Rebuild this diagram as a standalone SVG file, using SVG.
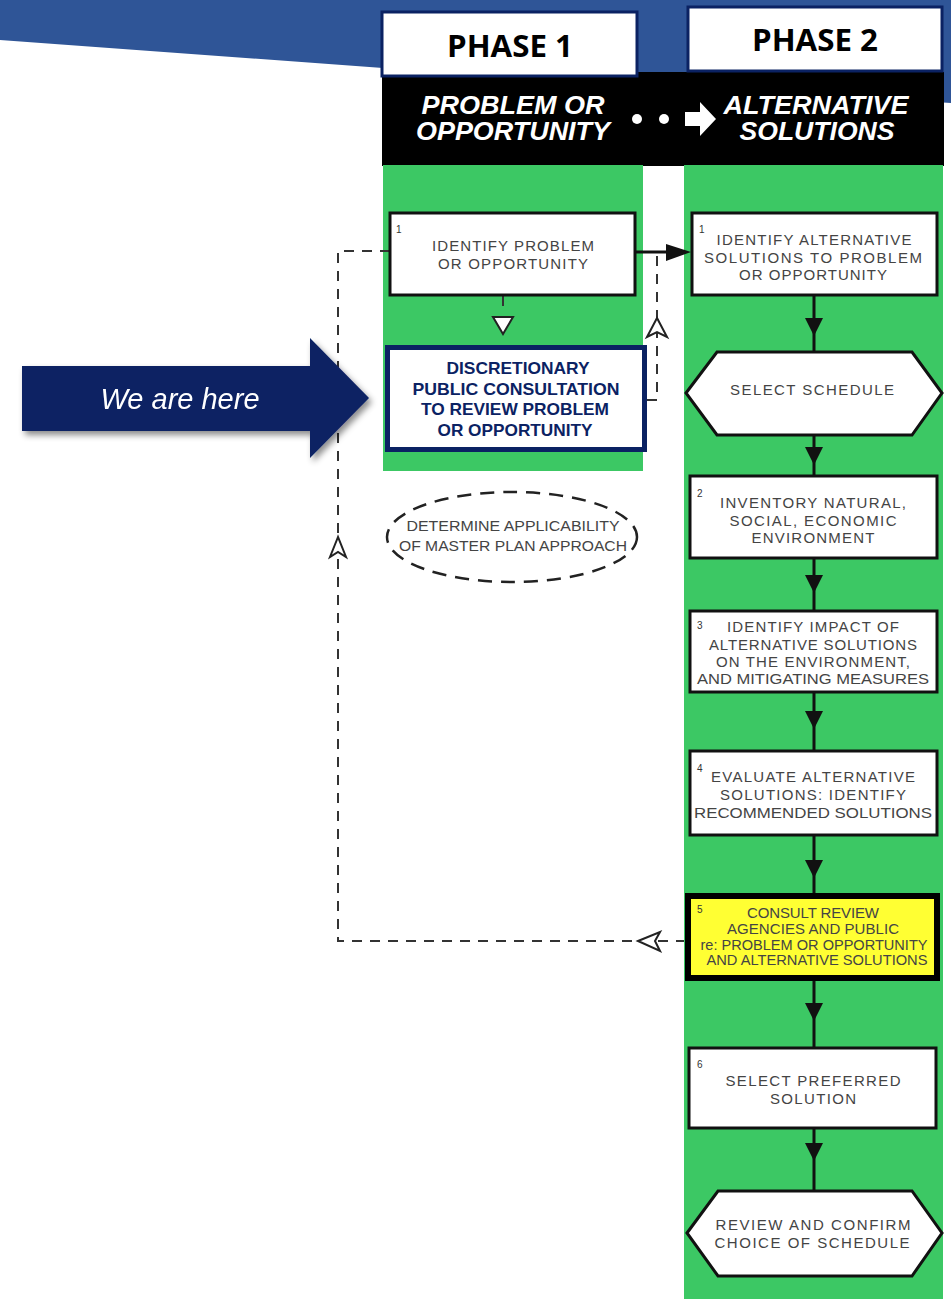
<svg xmlns="http://www.w3.org/2000/svg" width="951" height="1299" viewBox="0 0 951 1299">
<defs>
<style>
.box{fill:#ffffff;stroke:#111;stroke-width:3}
.t{font-family:"Liberation Sans",Arial,sans-serif;font-size:15px;fill:#444;text-anchor:middle;dominant-baseline:central}
.num{font-family:"Liberation Sans",Arial,sans-serif;font-size:10px;fill:#333}
.disc{font-family:"Liberation Sans",Arial,sans-serif;font-size:16.5px;font-weight:bold;fill:#0b2263;text-anchor:middle;dominant-baseline:central}
.hdr{font-family:"Liberation Sans",Arial,sans-serif;font-size:25px;font-weight:bold;font-style:italic;fill:#fff;text-anchor:middle;dominant-baseline:central}
.phase{font-family:"Open Sans","Liberation Sans",sans-serif;font-size:31px;font-weight:bold;fill:#000;text-anchor:middle;dominant-baseline:central}
.solid{stroke:#111;stroke-width:3;fill:none}
.dash{stroke:#333;stroke-width:2;fill:none;stroke-dasharray:10 8}
.head{fill:#111}
.hollow{fill:#fff;stroke:#222;stroke-width:2}
</style>
<filter id="sh" x="-10%" y="-20%" width="130%" height="150%">
<feDropShadow dx="3" dy="4" stdDeviation="3" flood-color="#000" flood-opacity="0.45"/>
</filter>
</defs>

<!-- background header band -->
<polygon points="0,0 951,0 951,103 383,68 0,40" fill="#2f5597"/>
<rect x="382" y="72" width="562" height="94" fill="#000"/>
<rect x="383" y="165" width="260" height="306" fill="#3cc864"/>
<rect x="684" y="165" width="259" height="1134" fill="#3cc864"/>

<g id="phase1">
<rect x="382" y="12" width="255" height="64" fill="#fff" stroke="#0b2263" stroke-width="3"/>
<text class="phase" x="510" y="45" textLength="126" lengthAdjust="spacingAndGlyphs">PHASE 1</text>
</g>
<g id="phase2">
<rect x="688" y="7" width="254" height="64" fill="#fff" stroke="#0b2263" stroke-width="3"/>
<text class="phase" x="815" y="39" textLength="126" lengthAdjust="spacingAndGlyphs">PHASE 2</text>
</g>

<g id="header">
<text class="hdr" x="513" y="105" textLength="183" lengthAdjust="spacingAndGlyphs">PROBLEM OR</text>
<text class="hdr" x="513" y="131" textLength="194" lengthAdjust="spacingAndGlyphs">OPPORTUNITY</text>
<circle cx="637" cy="119" r="5" fill="#fff"/>
<circle cx="664" cy="119" r="5" fill="#fff"/>
<polygon points="685,112 700,112 700,102 716,119 700,136 700,126 685,126" fill="#fff"/>
<text class="hdr" x="816" y="105" textLength="185" lengthAdjust="spacingAndGlyphs">ALTERNATIVE</text>
<text class="hdr" x="817" y="131" textLength="155" lengthAdjust="spacingAndGlyphs">SOLUTIONS</text>
</g>

<g id="connectors">
<!-- left feedback loop -->
<polyline class="dash" points="390,251 338,251 338,941 684,941"/>
<polygon class="hollow" points="338,537 330,557 338,552 346,557"/>
<polygon class="hollow" points="638,941 660,932 655,941 660,951"/>
<!-- L1 to discretionary -->
<line class="dash" x1="503" y1="296" x2="503" y2="314" stroke-dasharray="8 4"/>
<polygon class="hollow" points="493,317 513,317 503,334"/>
<!-- discretionary back up -->
<polyline class="dash" points="647,400 657,400 657,255"/>
<polygon class="hollow" points="657,318 647,337 657,332 667,337"/>
<!-- L1 to R1 -->
<line class="solid" x1="636" y1="252" x2="680" y2="252"/>
<polygon class="head" points="666,244 691,252 666,261"/>
<!-- right spine -->
<line class="solid" x1="814" y1="296" x2="814" y2="352"/>
<polygon class="head" points="805,318 823,318 814,336"/>
<line class="solid" x1="814" y1="435" x2="814" y2="475"/>
<polygon class="head" points="805,447 823,447 814,465"/>
<line class="solid" x1="814" y1="558" x2="814" y2="611"/>
<polygon class="head" points="805,575 823,575 814,593"/>
<line class="solid" x1="814" y1="692" x2="814" y2="750"/>
<polygon class="head" points="805,711 823,711 814,729"/>
<line class="solid" x1="814" y1="835" x2="814" y2="893"/>
<polygon class="head" points="805,860 823,860 814,878"/>
<line class="solid" x1="814" y1="980" x2="814" y2="1047"/>
<polygon class="head" points="805,1003 823,1003 814,1021"/>
<line class="solid" x1="814" y1="1128" x2="814" y2="1190"/>
<polygon class="head" points="805,1143 823,1143 814,1161"/>
</g>

<g id="we-are-here" filter="url(#sh)">
<polygon points="22,366 310,366 310,338 369,398 310,458 310,431 22,431" fill="#0b2263"/>
<text x="180" y="399" font-family="'Liberation Sans',Arial,sans-serif" font-size="29px" font-style="italic" fill="#fff" text-anchor="middle" dominant-baseline="central">We are here</text>
</g>

<g id="n-l1">
<rect class="box" x="390" y="213" width="245" height="82"/>
<text class="num" x="396" y="233">1</text>
<text class="t" x="513" y="245" textLength="162" lengthAdjust="spacing">IDENTIFY PROBLEM</text>
<text class="t" x="513" y="263" textLength="150" lengthAdjust="spacing">OR OPPORTUNITY</text>
</g>

<g id="n-disc">
<rect x="387.5" y="347.5" width="257" height="102" fill="#fff" stroke="#0b2263" stroke-width="5"/>
<text class="disc" x="518" y="368" textLength="143" lengthAdjust="spacingAndGlyphs">DISCRETIONARY</text>
<text class="disc" x="516" y="389" textLength="207" lengthAdjust="spacingAndGlyphs">PUBLIC CONSULTATION</text>
<text class="disc" x="515" y="409" textLength="188" lengthAdjust="spacingAndGlyphs">TO REVIEW PROBLEM</text>
<text class="disc" x="515" y="430" textLength="155" lengthAdjust="spacingAndGlyphs">OR OPPORTUNITY</text>
</g>

<g id="n-master">
<ellipse cx="512" cy="537" rx="125" ry="45" fill="none" stroke="#222" stroke-width="2.5" stroke-dasharray="14 9"/>
<text class="t" x="513" y="525" textLength="213" lengthAdjust="spacingAndGlyphs">DETERMINE APPLICABILITY</text>
<text class="t" x="513" y="545" textLength="228" lengthAdjust="spacingAndGlyphs">OF MASTER PLAN APPROACH</text>
</g>

<g id="n-r1">
<rect class="box" x="692" y="213" width="245" height="82"/>
<text class="num" x="699" y="233">1</text>
<text class="t" x="814" y="239" textLength="195" lengthAdjust="spacing">IDENTIFY ALTERNATIVE</text>
<text class="t" x="813" y="257" textLength="218" lengthAdjust="spacing">SOLUTIONS TO PROBLEM</text>
<text class="t" x="813" y="274" textLength="148" lengthAdjust="spacing">OR OPPORTUNITY</text>
</g>

<g id="n-sched">
<polygon class="box" points="686,393 717,352 912,352 942,393 912,435 717,435"/>
<text class="t" x="812" y="389" textLength="164" lengthAdjust="spacing">SELECT SCHEDULE</text>
</g>

<g id="n-r2">
<rect class="box" x="690" y="476" width="247" height="82"/>
<text class="num" x="697" y="497">2</text>
<text class="t" x="813" y="502" textLength="186" lengthAdjust="spacing">INVENTORY NATURAL,</text>
<text class="t" x="813" y="520" textLength="167" lengthAdjust="spacing">SOCIAL, ECONOMIC</text>
<text class="t" x="813" y="537" textLength="123" lengthAdjust="spacing">ENVIRONMENT</text>
</g>

<g id="n-r3">
<rect class="box" x="690" y="611" width="247" height="81"/>
<text class="num" x="697" y="629">3</text>
<text class="t" x="813" y="626" textLength="172" lengthAdjust="spacing">IDENTIFY IMPACT OF</text>
<text class="t" x="813" y="644" textLength="208" lengthAdjust="spacing">ALTERNATIVE SOLUTIONS</text>
<text class="t" x="813" y="661" textLength="194" lengthAdjust="spacing">ON THE ENVIRONMENT,</text>
<text class="t" x="813" y="678" textLength="232" lengthAdjust="spacingAndGlyphs">AND MITIGATING MEASURES</text>
</g>

<g id="n-r4">
<rect class="box" x="690" y="751" width="247" height="84"/>
<text class="num" x="697" y="772">4</text>
<text class="t" x="813" y="776" textLength="204" lengthAdjust="spacing">EVALUATE ALTERNATIVE</text>
<text class="t" x="813" y="794" textLength="186" lengthAdjust="spacing">SOLUTIONS: IDENTIFY</text>
<text class="t" x="813" y="812" textLength="238" lengthAdjust="spacingAndGlyphs">RECOMMENDED SOLUTIONS</text>
</g>

<g id="n-r5">
<rect x="688" y="896" width="249" height="82" fill="#ffff33" stroke="#000" stroke-width="6"/>
<text class="num" x="697" y="913">5</text>
<text class="t" x="813" y="912" font-size="13.5px" textLength="132" lengthAdjust="spacing">CONSULT REVIEW</text>
<text class="t" x="813" y="928" font-size="13.5px" textLength="172" lengthAdjust="spacing">AGENCIES AND PUBLIC</text>
<text class="t" x="814" y="944" font-size="13.5px" textLength="227" lengthAdjust="spacingAndGlyphs">re: PROBLEM OR OPPORTUNITY</text>
<text class="t" x="817" y="959" font-size="13.5px" textLength="221" lengthAdjust="spacingAndGlyphs">AND ALTERNATIVE SOLUTIONS</text>
</g>

<g id="n-r6">
<rect class="box" x="689" y="1048" width="247" height="80"/>
<text class="num" x="697" y="1068">6</text>
<text class="t" x="813" y="1080" textLength="175" lengthAdjust="spacing">SELECT PREFERRED</text>
<text class="t" x="813" y="1098" textLength="86" lengthAdjust="spacing">SOLUTION</text>
</g>

<g id="n-confirm">
<polygon class="box" points="687,1233 718,1191 912,1191 942,1233 912,1276 718,1276"/>
<text class="t" x="813" y="1224" textLength="195" lengthAdjust="spacing">REVIEW AND CONFIRM</text>
<text class="t" x="812" y="1242" textLength="195" lengthAdjust="spacing">CHOICE OF SCHEDULE</text>
</g>
</svg>
